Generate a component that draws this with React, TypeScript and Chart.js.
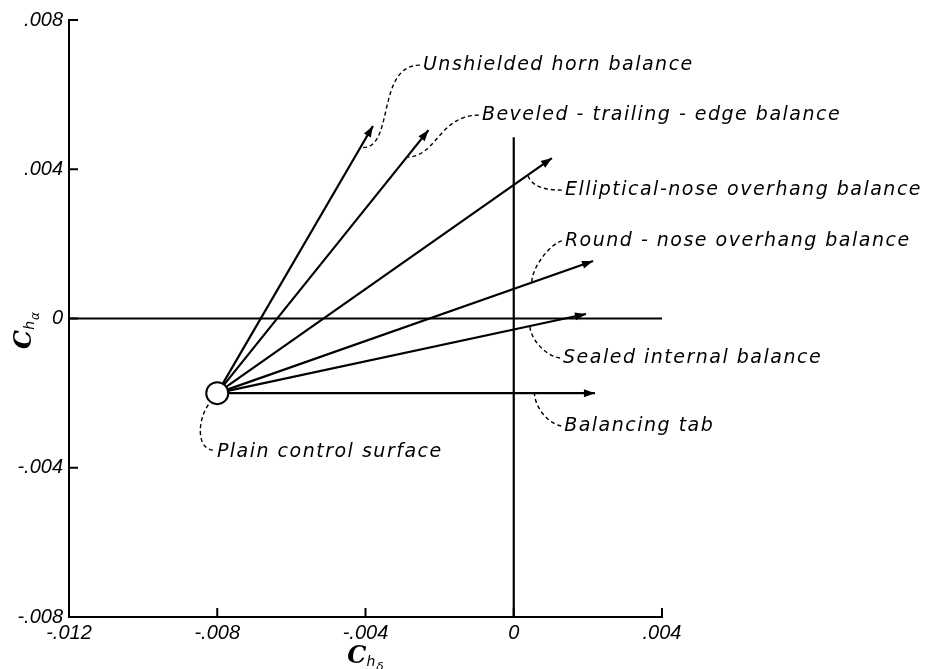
import React, { useEffect, useRef } from "react";
import { Chart, registerables } from "chart.js";
Chart.register(...registerables);

// ---- data ----
const ORIGIN_X = -0.008;
const ORIGIN_Y = -0.002;
const ORIGIN_LABEL = "Plain control surface";
const SERIES_NAMES = [
  "Unshielded horn balance",
  "Beveled - trailing - edge balance",
  "Elliptical-nose overhang balance",
  "Round - nose overhang balance",
  "Sealed internal balance",
  "Balancing tab",
];
const END_X = [-0.0038, -0.0023, 0.00103, 0.00214, 0.00195, 0.00219];
const END_Y = [0.00516, 0.00505, 0.0043, 0.00154, 0.00012, -0.002];
const X_TICK_LABELS = ["-.012", "-.008", "-.004", "0", ".004"];
const Y_TICK_LABELS = ["-.008", "-.004", "0", ".004", ".008"];
const X_MIN = -0.012;
const X_MAX = 0.004;
const Y_MIN = -0.008;
const Y_MAX = 0.008;
const STEP = 0.004;
const ZERO_LINE_TOP = 0.00486;

// label anchors (data units, left/middle of text)
const LABEL_X = [-0.00245, -0.00086, 0.00138, 0.00138, 0.00133, 0.00136];
const LABEL_Y = [0.00679, 0.00545, 0.00344, 0.00208, -0.00106, -0.00288];
const ORIGIN_LABEL_X = -0.00801;
const ORIGIN_LABEL_Y = -0.00358;

// leader styling (fraction along arrow, bezier control offsets in px)
const LEADER_T = [0.92, 0.897, 0.928, 0.837, 0.848, 0.84];
const LEADER_C1 = [[-45, 0], [-40, 0], [-20, 0], [-12, 3], [-15, -2], [-15, -3]];
const LEADER_C2 = [[35, 5], [30, 0], [3, 10], [0, -15], [0, 12], [0, 12]];

const W = 927;
const H = 669;

function tickLabel(v: number, labels: string[], min: number) {
  const i = Math.round((v - min) / STEP);
  return labels[i] ?? "";
}

const overlay = {
  id: "overlay",
  afterDatasetsDraw(chart: any) {
    const ctx: CanvasRenderingContext2D = chart.ctx;
    const xs = chart.scales.x;
    const ys = chart.scales.y;
    const ox = xs.getPixelForValue(ORIGIN_X);
    const oy = ys.getPixelForValue(ORIGIN_Y);
    ctx.save();
    ctx.fillStyle = "#000";
    ctx.strokeStyle = "#000";

    // arrowheads
    for (let i = 0; i < END_X.length; i++) {
      const ex = xs.getPixelForValue(END_X[i]);
      const ey = ys.getPixelForValue(END_Y[i]);
      const a = Math.atan2(ey - oy, ex - ox);
      const len = 11;
      const hw = 4;
      ctx.beginPath();
      ctx.moveTo(ex, ey);
      ctx.lineTo(ex - len * Math.cos(a) + hw * Math.sin(a), ey - len * Math.sin(a) - hw * Math.cos(a));
      ctx.lineTo(ex - len * Math.cos(a) - hw * Math.sin(a), ey - len * Math.sin(a) + hw * Math.cos(a));
      ctx.closePath();
      ctx.fill();
    }

    // inward ticks
    ctx.lineWidth = 2;
    const left = chart.chartArea.left;
    const bottom = chart.chartArea.bottom;
    for (let v = X_MIN + STEP; v <= X_MAX + 1e-9; v += STEP) {
      const px = xs.getPixelForValue(v);
      ctx.beginPath();
      ctx.moveTo(px, bottom);
      ctx.lineTo(px, bottom - 9);
      ctx.stroke();
    }
    for (let v = Y_MIN + STEP; v <= Y_MAX + 1e-9; v += STEP) {
      const py = ys.getPixelForValue(v);
      ctx.beginPath();
      ctx.moveTo(left, py);
      ctx.lineTo(left + 9, py);
      ctx.stroke();
    }

    // leaders
    ctx.lineWidth = 1.4;
    ctx.setLineDash([4, 3]);
    for (let i = 0; i < END_X.length; i++) {
      const ex = xs.getPixelForValue(END_X[i]);
      const ey = ys.getPixelForValue(END_Y[i]);
      const p3x = ox + LEADER_T[i] * (ex - ox);
      const p3y = oy + LEADER_T[i] * (ey - oy);
      const p0x = xs.getPixelForValue(LABEL_X[i]) - 3;
      const p0y = ys.getPixelForValue(LABEL_Y[i]);
      ctx.beginPath();
      ctx.moveTo(p0x, p0y);
      ctx.bezierCurveTo(
        p0x + LEADER_C1[i][0], p0y + LEADER_C1[i][1],
        p3x + LEADER_C2[i][0], p3y + LEADER_C2[i][1],
        p3x, p3y
      );
      ctx.stroke();
    }
    {
      const p0x = xs.getPixelForValue(ORIGIN_LABEL_X) - 4;
      const p0y = ys.getPixelForValue(ORIGIN_LABEL_Y) - 2;
      const p3x = ox - 7;
      const p3y = oy + 9;
      ctx.beginPath();
      ctx.moveTo(p0x, p0y);
      ctx.bezierCurveTo(p0x - 18, p0y - 2, p3x - 12, p3y + 14, p3x, p3y);
      ctx.stroke();
    }
    ctx.setLineDash([]);

    // labels
    ctx.font = "italic 19px 'DejaVu Sans'";
    (ctx as any).letterSpacing = "1.5px";
    ctx.textAlign = "left";
    ctx.textBaseline = "middle";
    for (let i = 0; i < SERIES_NAMES.length; i++) {
      ctx.fillText(SERIES_NAMES[i], xs.getPixelForValue(LABEL_X[i]), ys.getPixelForValue(LABEL_Y[i]));
    }
    ctx.fillText(ORIGIN_LABEL, xs.getPixelForValue(ORIGIN_LABEL_X), ys.getPixelForValue(ORIGIN_LABEL_Y));
    (ctx as any).letterSpacing = "0px";

    // axis titles
    const drawTitle = (sub: string) => {
      ctx.textAlign = "left";
      ctx.textBaseline = "alphabetic";
      ctx.font = "bold italic 24px 'DejaVu Serif'";
      const wC = ctx.measureText("C").width;
      ctx.font = "italic 14px 'DejaVu Sans'";
      const wh = ctx.measureText("h").width;
      ctx.font = "italic 12px 'DejaVu Sans'";
      const ws = ctx.measureText(sub).width;
      const total = wC + wh + ws + 1;
      let x = -total / 2;
      ctx.font = "bold italic 24px 'DejaVu Serif'";
      ctx.fillText("C", x, 8);
      x += wC;
      ctx.font = "italic 14px 'DejaVu Sans'";
      ctx.fillText("h", x, 11);
      x += wh + 1;
      ctx.font = "italic 12px 'DejaVu Sans'";
      ctx.fillText(sub, x, 16);
    };
    const ca = chart.chartArea;
    ctx.save();
    ctx.translate((ca.left + ca.right) / 2, ca.bottom + 38);
    drawTitle("δ");
    ctx.restore();
    ctx.save();
    ctx.translate(ca.left - 46, (ca.top + ca.bottom) / 2 + 12);
    ctx.rotate(-Math.PI / 2);
    drawTitle("α");
    ctx.restore();

    ctx.restore();
  },
};

export default function App() {
  const ref = useRef<HTMLCanvasElement>(null);
  useEffect(() => {
    if (!ref.current) return;
    const datasets: any[] = [];
    datasets.push({
      data: [{ x: ORIGIN_X, y: ORIGIN_Y }],
      pointRadius: 11,
      pointBackgroundColor: "#fff",
      pointBorderColor: "#000",
      pointBorderWidth: 2,
      showLine: false,
    });
    for (let i = 0; i < END_X.length; i++) {
      datasets.push({
        label: SERIES_NAMES[i],
        data: [{ x: ORIGIN_X, y: ORIGIN_Y }, { x: END_X[i], y: END_Y[i] }],
        showLine: true,
        borderColor: "#000",
        borderWidth: 2.2,
        pointRadius: 0,
      });
    }
    datasets.push({
      data: [{ x: X_MIN, y: 0 }, { x: X_MAX, y: 0 }],
      showLine: true, borderColor: "#000", borderWidth: 2.2, pointRadius: 0,
    });
    datasets.push({
      data: [{ x: 0, y: Y_MIN }, { x: 0, y: ZERO_LINE_TOP }],
      showLine: true, borderColor: "#000", borderWidth: 2.2, pointRadius: 0,
    });
    const tickFont = { family: "'Liberation Sans'", size: 20, style: "italic" as const };
    const chart = new Chart(ref.current, {
      type: "scatter",
      data: { datasets },
      plugins: [overlay],
      options: {
        animation: false,
        responsive: false,
        devicePixelRatio: 1,
        layout: { padding: { left: 0, top: 20, right: W - 662, bottom: 0 } },
        plugins: { legend: { display: false }, tooltip: { enabled: false } },
        scales: {
          x: {
            type: "linear",
            min: X_MIN,
            max: X_MAX,
            afterFit: (s: any) => { s.height = 52; },
            ticks: {
              stepSize: STEP,
              color: "#000",
              font: tickFont,
              padding: 4,
              maxRotation: 0,
              callback: (v: any) => tickLabel(Number(v), X_TICK_LABELS, X_MIN),
            },
            grid: { display: true, drawOnChartArea: false, drawTicks: false },
            border: { display: true, color: "#000", width: 2 },
          },
          y: {
            type: "linear",
            min: Y_MIN,
            max: Y_MAX,
            afterFit: (s: any) => { s.width = 69; },
            ticks: {
              stepSize: STEP,
              color: "#000",
              font: tickFont,
              padding: 6,
              callback: (v: any) => tickLabel(Number(v), Y_TICK_LABELS, Y_MIN),
            },
            grid: { display: true, drawOnChartArea: false, drawTicks: false },
            border: { display: true, color: "#000", width: 2 },
          },
        },
      },
    });
    return () => chart.destroy();
  }, []);
  return (
    <div style={{ position: "absolute", left: 0, top: 0, width: W, height: H, background: "#fff" }}>
      <canvas ref={ref} width={W} height={H} style={{ width: W, height: H }} />
    </div>
  );
}
